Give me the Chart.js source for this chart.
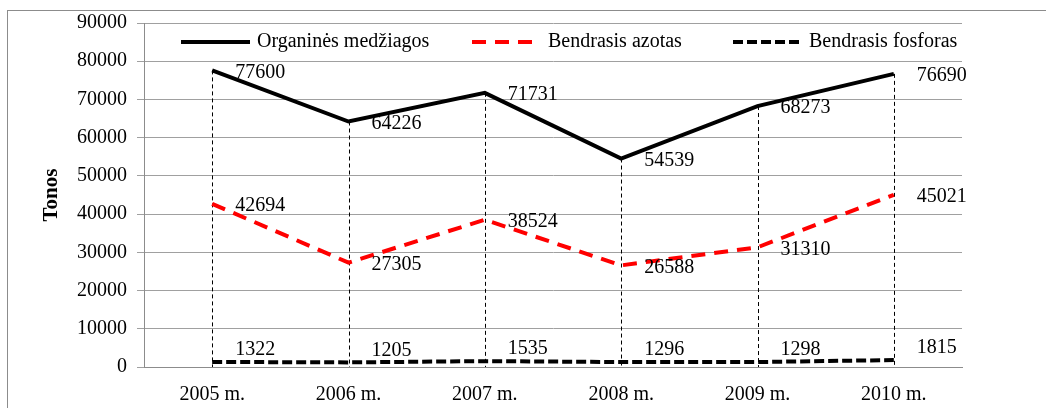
<!DOCTYPE html>
<html>
<head>
<meta charset="utf-8">
<script src="https://cdn.jsdelivr.net/npm/chart.js@4"></script>
<style>
html,body{margin:0;padding:0;background:#fff;}
canvas{display:block;}
</style>
</head>
<body>
<canvas id="c" width="1046" height="408"></canvas>
<script>
const categories = ["2005 m.", "2006 m.", "2007 m.", "2008 m.", "2009 m.", "2010 m."];
const organines = [77600, 64226, 71731, 54539, 68273, 76690];
const azotas = [42694, 27305, 38524, 26588, 31310, 45021];
const fosforas = [1322, 1205, 1535, 1296, 1298, 1815];
const seriesNames = ["Organinės medžiagos", "Bendrasis azotas", "Bendrasis fosforas"];
const yTitle = "Tonos";

const FONT = "'Liberation Serif', 'Times New Roman', serif";

const frame = {
  id: 'frame',
  beforeDraw(chart) {
    const ctx = chart.ctx;
    ctx.save();
    ctx.strokeStyle = '#8c8c8c';
    ctx.lineWidth = 1;
    ctx.strokeRect(7.5, 10.5, 1200, 600);
    ctx.restore();
  }
};

const dropLines = {
  id: 'dropLines',
  beforeDatasetsDraw(chart) {
    const ctx = chart.ctx;
    const meta = chart.getDatasetMeta(0);
    const bottom = chart.chartArea.bottom;
    ctx.save();
    ctx.strokeStyle = '#000';
    ctx.lineWidth = 1;
    ctx.setLineDash([4, 3]);
    meta.data.forEach(p => {
      const x = Math.round(p.x) + 0.5;
      ctx.beginPath();
      ctx.moveTo(x, p.y);
      ctx.lineTo(x, bottom);
      ctx.stroke();
    });
    ctx.restore();
  }
};

const dataLabels = {
  id: 'dataLabels',
  afterDatasetsDraw(chart) {
    const ctx = chart.ctx;
    ctx.save();
    ctx.font = "20px " + FONT;
    ctx.fillStyle = '#000';
    ctx.textAlign = 'left';
    ctx.textBaseline = 'middle';
    chart.data.datasets.forEach((ds, i) => {
      const meta = chart.getDatasetMeta(i);
      const dy = i === 2 ? -12 : 2;
      meta.data.forEach((p, j) => {
        ctx.fillText(String(ds.data[j]), p.x + 23, p.y + dy);
      });
    });
    ctx.restore();
  }
};

const customLegend = {
  id: 'customLegend',
  afterDraw(chart) {
    const ctx = chart.ctx;
    const a = chart.chartArea;
    const y = a.top + 19;
    const starts = [37, 328, 589];
    ctx.save();
    ctx.font = "20px " + FONT;
    ctx.fillStyle = '#000';
    ctx.textAlign = 'left';
    ctx.textBaseline = 'middle';
    chart.data.datasets.forEach((ds, i) => {
      const x0 = a.left + starts[i];
      ctx.save();
      ctx.strokeStyle = ds.borderColor;
      ctx.lineWidth = ds.borderWidth;
      ctx.setLineDash(ds.borderDash || []);
      ctx.beginPath();
      ctx.moveTo(x0, y);
      ctx.lineTo(x0 + 69, y);
      ctx.stroke();
      ctx.restore();
      ctx.fillText(ds.label, x0 + 76, y);
    });
    ctx.restore();
  }
};

new Chart(document.getElementById('c'), {
  type: 'line',
  data: {
    labels: categories,
    datasets: [
      { label: seriesNames[0], data: organines, borderColor: '#000', borderWidth: 4, borderDash: [], pointRadius: 0, tension: 0, fill: false },
      { label: seriesNames[1], data: azotas, borderColor: '#ff0000', borderWidth: 4, borderDash: [14, 9], pointRadius: 0, tension: 0, fill: false },
      { label: seriesNames[2], data: fosforas, borderColor: '#000', borderWidth: 4, borderDash: [10, 4], pointRadius: 0, tension: 0, fill: false }
    ]
  },
  options: {
    responsive: false,
    devicePixelRatio: 1,
    animation: false,
    layout: { padding: { left: 39, top: 23, right: 84, bottom: 0 } },
    plugins: { legend: { display: false }, tooltip: { enabled: false } },
    scales: {
      x: {
        offset: true,
        grid: { display: false, drawTicks: false },
        border: { display: true, color: '#8c8c8c', width: 1 },
        ticks: { font: { family: FONT, size: 20 }, color: '#000', padding: 16 },
        afterFit(scale) { scale.height = 41; }
      },
      y: {
        min: 0, max: 90000,
        ticks: { stepSize: 10000, font: { family: FONT, size: 20 }, color: '#000', padding: 10,
                 callback: v => String(v) },
        grid: { color: '#a0a0a0', lineWidth: 1, tickLength: 7 },
        border: { display: true, color: '#8c8c8c', width: 1 },
        title: { display: true, text: yTitle, color: '#000', font: { family: FONT, size: 21, weight: 'bold' }, padding: { top: 0, bottom: 15 } },
        afterFit(scale) { scale.width = 105; }
      }
    }
  },
  plugins: [frame, dropLines, dataLabels, customLegend]
});
</script>
</body>
</html>
